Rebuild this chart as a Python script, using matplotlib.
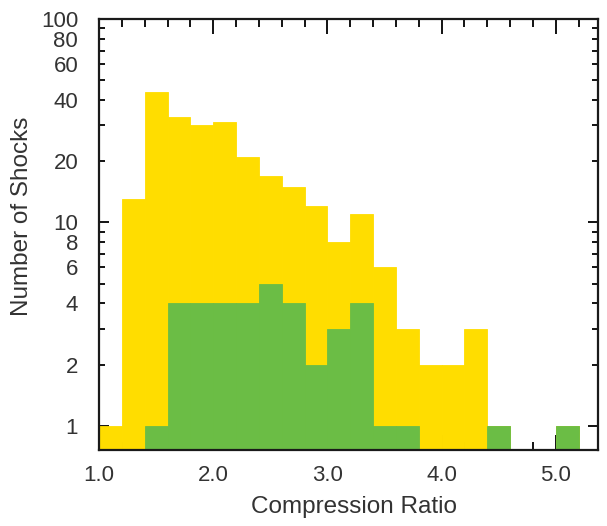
import numpy as np
import matplotlib
matplotlib.use("Agg")
import matplotlib.pyplot as plt
from matplotlib.ticker import FixedLocator, FuncFormatter, NullFormatter

plt.rcParams['font.family'] = ['Liberation Sans', 'DejaVu Sans']

# Histogram of shock compression ratios (bin width 0.2)
bin_edges = np.round(np.arange(1.0, 5.41, 0.2), 2)
all_counts = np.array([1, 13, 44, 33, 30, 31, 21, 17, 15, 12, 8, 11, 6, 3, 2, 2, 3, 1, 0, 0, 1, 0])
subset_counts = np.array([0, 0, 1, 4, 4, 4, 4, 5, 4, 2, 3, 4, 1, 1, 0, 0, 0, 1, 0, 0, 1, 0])

x_major = [1.0, 2.0, 3.0, 4.0, 5.0]
x_labels = ["1.0", "2.0", "3.0", "4.0", "5.0"]
y_major = [1, 10, 100]
y_minor = [2, 3, 4, 5, 6, 7, 8, 9, 20, 30, 40, 50, 60, 70, 80, 90]
y_labelled = [1, 2, 4, 6, 8, 10, 20, 40, 60, 80, 100]

yellow = "#FFDD00"
green = "#6BBD45"
text_col = "#333333"

fig = plt.figure(figsize=(6.07, 5.26), dpi=100)
ax = fig.add_axes([99 / 607, 76 / 526, 499 / 607, 431 / 526])

lefts = bin_edges[:-1]
for counts, col in ((all_counts, yellow), (subset_counts, green)):
    m = counts > 0
    ax.bar(lefts[m], counts[m], width=0.2, align='edge', color=col,
           edgecolor=col, linewidth=0.6, log=True, zorder=2)

ax.set_yscale('log')
ax.set_xlim(1.0, 5.37)
ax.set_ylim(0.76, 100)

ax.xaxis.set_major_locator(FixedLocator(x_major))
ax.set_xticklabels(x_labels)
ax.xaxis.set_minor_locator(FixedLocator(np.round(np.arange(1.2, 5.3, 0.2), 2)))

ax.yaxis.set_major_locator(FixedLocator(y_major))
ax.yaxis.set_minor_locator(FixedLocator(y_minor))
fmt = FuncFormatter(lambda v, p: str(int(round(v))) if int(round(v)) in y_labelled else "")
ax.yaxis.set_major_formatter(fmt)
ax.yaxis.set_minor_formatter(fmt)

ax.tick_params(axis='both', which='both', direction='in', top=True, right=True,
               colors='black', labelcolor=text_col, labelsize=16, zorder=5)
ax.tick_params(axis='x', which='major', length=11, width=1.3, pad=11)
ax.tick_params(axis='x', which='minor', length=5.5, width=1.3, pad=11)
ax.tick_params(axis='y', which='major', length=7.5, width=1.3, pad=15)
ax.tick_params(axis='y', which='minor', length=4.5, width=1.3, pad=15)

for s in ax.spines.values():
    s.set_linewidth(1.6)
    s.set_color('#1a1a1a')
    s.set_zorder(6)

fig.text(354 / 607, 1 - 513 / 526, "Compression Ratio", ha='center', va='baseline',
         fontsize=17.5, color=text_col)
fig.text(28 / 607, 1 - 216 / 526, "Number of Shocks", ha='center', va='baseline',
         rotation=90, rotation_mode='anchor', fontsize=17.5, color=text_col)

fig.savefig("out.png", dpi=100)
